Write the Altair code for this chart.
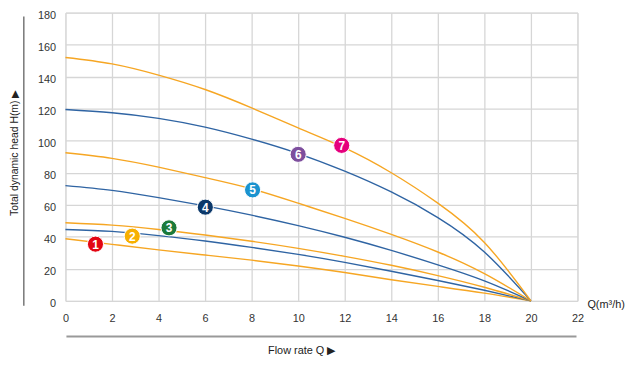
import altair as alt
import pandas as pd

# ---- data ----
flow = [0, 2, 4, 6, 8, 10, 12, 14, 16, 18, 20]
curve_1 = [38.8, 35.3, 31.8, 28.6, 25.4, 21.8, 17.7, 13.2, 9.0, 4.8, 0]
curve_2 = [44.6, 43.4, 40.7, 37.4, 33.4, 29.0, 24.0, 18.5, 12.7, 6.6, 0]
curve_3 = [48.8, 47.3, 44.6, 41.1, 37.2, 32.8, 27.8, 22.2, 15.8, 8.5, 0]
curve_4 = [72.0, 69.0, 64.5, 59.3, 53.5, 47.0, 39.7, 31.5, 22.5, 12.5, 0]
curve_5 = [92.5, 89.0, 83.5, 77.0, 70.0, 61.0, 51.5, 41.5, 30.5, 17.0, 0]
curve_6 = [119.5, 117.5, 114.0, 108.5, 101.0, 92.0, 81.0, 68.0, 52.0, 30.5, 0]
curve_7 = [152.0, 148.0, 141.0, 132.0, 120.5, 108.0, 95.5, 80.0, 61.0, 36.5, 0]

curve_names = ["1", "2", "3", "4", "5", "6", "7"]
curve_colors = ["#F6A623", "#2F64A3", "#F6A623", "#2F64A3", "#F6A623", "#2F64A3", "#F6A623"]

marker_ids = ["1", "2", "3", "4", "5", "6", "7"]
marker_q = [1.29, 2.87, 4.45, 6.01, 8.04, 10.0, 11.87]
marker_h = [35.4, 40.4, 45.6, 58.5, 69.3, 91.5, 97.1]
marker_colors = ["#E30613", "#F7B000", "#1B7A3A", "#0B386A", "#1A93CF", "#7D4E9D", "#E5007D"]

x_ticks = list(range(0, 23, 2))
y_ticks = list(range(0, 181, 20))

x_title = "Flow rate Q ▶"
y_title = "Total dynamic head H(m) ▶"
unit_label = "Q(m³/h)"

# ---- tables ----
all_curves = [curve_1, curve_2, curve_3, curve_4, curve_5, curve_6, curve_7]
rows = []
for name, vals in zip(curve_names, all_curves):
    for q, h in zip(flow, vals):
        rows.append({"curve": name, "Q": q, "H": h})
lines_df = pd.DataFrame(rows)
markers_df = pd.DataFrame({"id": marker_ids, "Q": marker_q, "H": marker_h})

W, H = 517, 291
FONT = "Liberation Sans"

x_axis = alt.Axis(values=x_ticks, title=x_title, domain=False, ticks=False,
                  labelPadding=12, labelFontSize=11, labelColor="#333",
                  labelOverlap=False, labelFlush=False,
                  gridColor="#d6d6d6", gridWidth=1.3,
                  titleX=238, titleY=50, titleAlign="center", titleBaseline="middle",
                  titleFontSize=11, titleFontWeight="normal", titleColor="#222")
y_axis = alt.Axis(values=y_ticks, title=y_title, domain=False, ticks=False,
                  labelPadding=10, labelFontSize=11, labelColor="#333",
                  labelOverlap=False, labelFlush=False, labelOffset=3,
                  gridColor="#d6d6d6", gridWidth=1.3,
                  titleX=-51, titleY=141, titleAngle=270, titleAlign="center",
                  titleBaseline="middle",
                  titleFontSize=10.5, titleFontWeight="normal", titleColor="#222")
x_scale = alt.Scale(domain=[0, 22], nice=False)
y_scale = alt.Scale(domain=[0, 180], nice=False)


def xe():
    return alt.X("Q:Q", scale=x_scale, axis=x_axis)


def ye():
    return alt.Y("H:Q", scale=y_scale, axis=y_axis)


lines = alt.Chart(lines_df).mark_line(interpolate="natural", strokeWidth=1.4).encode(
    x=xe(), y=ye(),
    color=alt.Color("curve:N", scale=alt.Scale(domain=curve_names, range=curve_colors), legend=None),
)

dots = alt.Chart(markers_df).mark_circle(size=265, opacity=1, stroke="white", strokeWidth=1).encode(
    x=xe(), y=ye(),
    color=alt.Color("id:N", scale=alt.Scale(domain=marker_ids, range=marker_colors), legend=None),
)
labels = alt.Chart(markers_df).mark_text(color="white", fontWeight="bold", fontSize=12,
                                         baseline="middle", align="center", dy=0.5).encode(
    x=xe(), y=ye(), text="id:N")

one = pd.DataFrame({"a": [0]})
left_line = alt.Chart(one).mark_rule(color="#555", strokeWidth=1.2).encode(
    x=alt.value(-42), y=alt.value(4), y2=alt.value(296))
bottom_line = alt.Chart(one).mark_rule(color="#999", strokeWidth=2).encode(
    x=alt.value(1), x2=alt.value(516), y=alt.value(327))
unit = alt.Chart(pd.DataFrame({"t": [unit_label]})).mark_text(
    align="left", baseline="middle", fontSize=11, color="#222").encode(
    x=alt.value(527), y=alt.value(295), text="t:N")

chart = alt.layer(lines, dots, labels, left_line, bottom_line, unit).resolve_scale(
    color="independent"
).properties(
    width=W, height=H,
    autosize=alt.AutoSizeParams(type="none"),
    padding={"left": 58, "top": 3, "right": 50, "bottom": 54},
).configure_view(stroke=None).configure(font=FONT)

chart.save("out.html", embed_options={"renderer": "svg", "actions": False})
